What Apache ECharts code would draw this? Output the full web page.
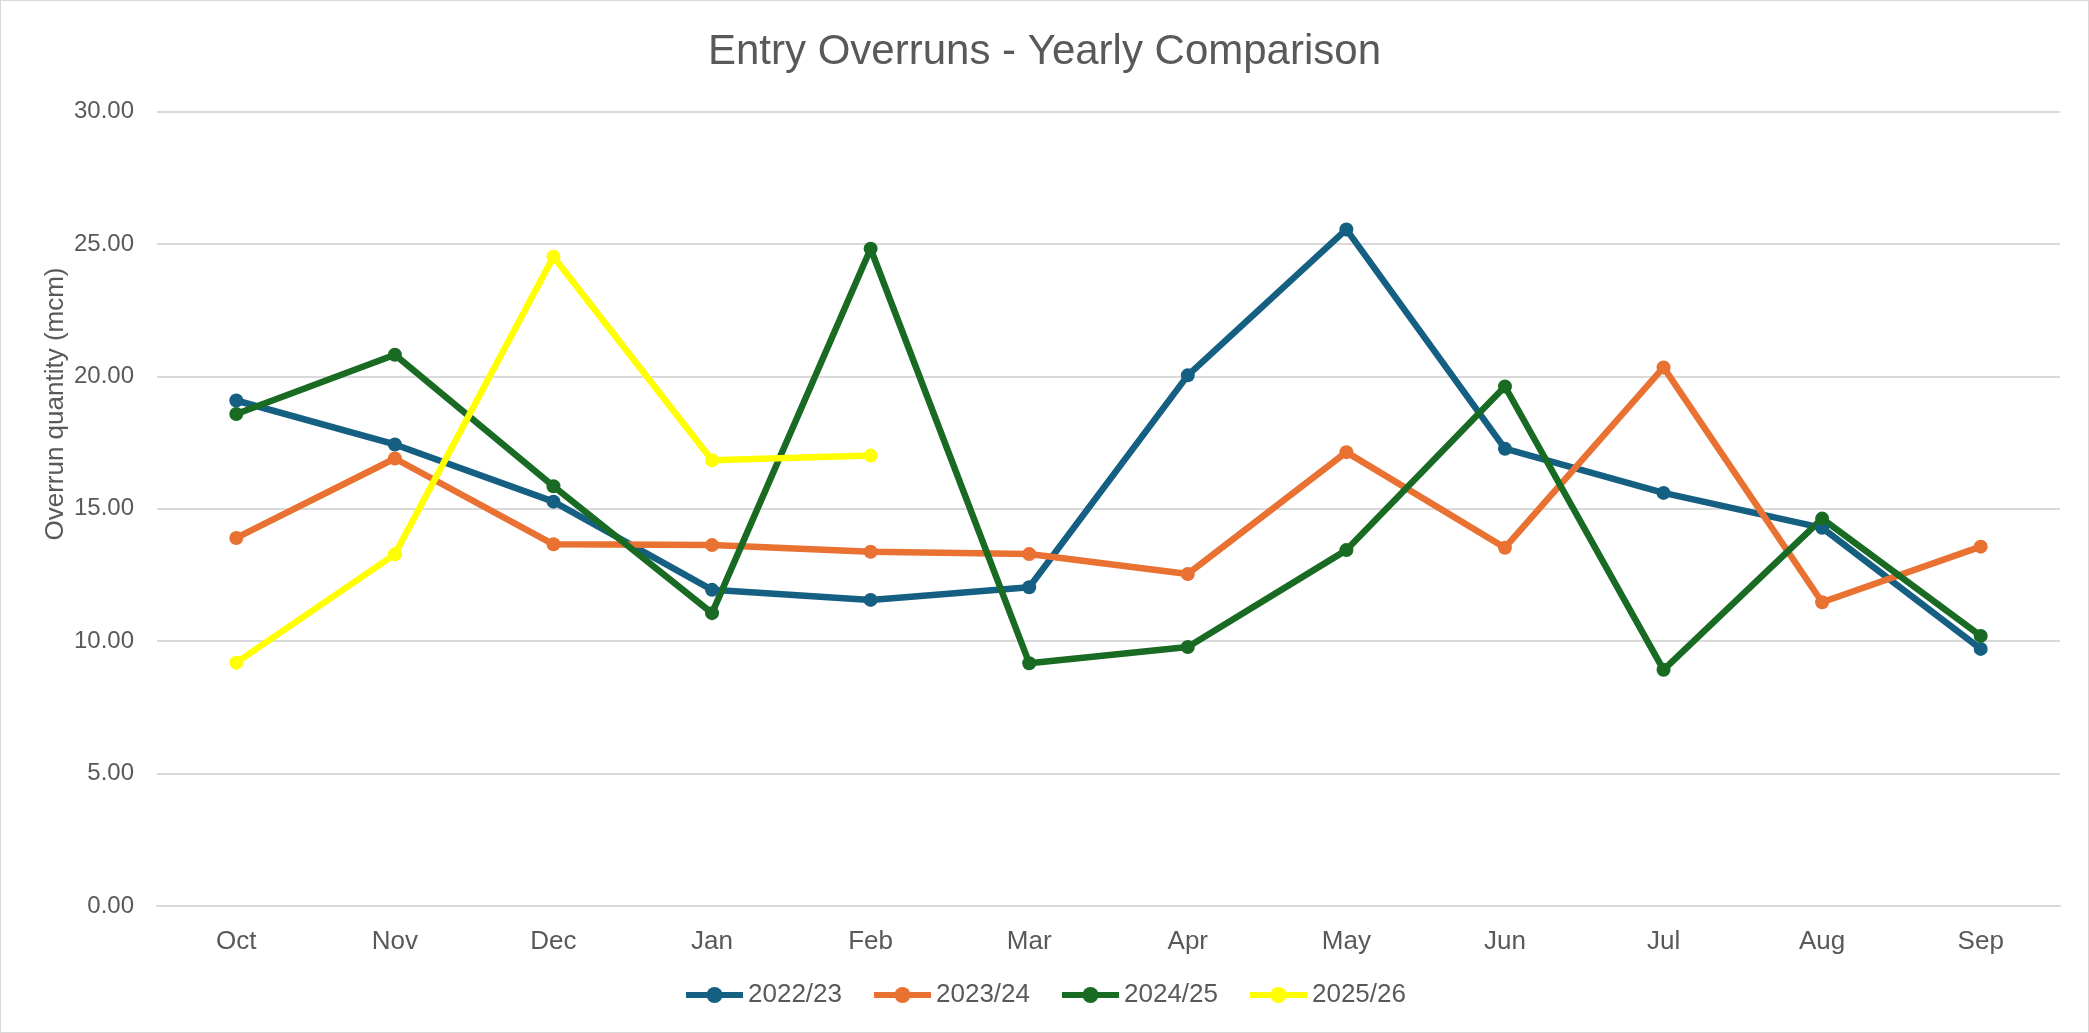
<!DOCTYPE html>
<html>
<head>
<meta charset="utf-8">
<script src="https://cdn.jsdelivr.net/npm/echarts@6/dist/echarts.min.js"></script>
<style>
html,body{margin:0;padding:0;background:#fff;}
#chart{width:2089px;height:1033px;box-sizing:border-box;border:1px solid #d9d9d9;}
</style>
</head>
<body>
<div id="chart"></div>
<script>
const months = ['Oct','Nov','Dec','Jan','Feb','Mar','Apr','May','Jun','Jul','Aug','Sep'];
const seriesNames = ['2022/23','2023/24','2024/25','2025/26'];
const v2022 = [19.09, 17.43, 15.27, 11.94, 11.56, 12.04, 20.04, 25.55, 17.27, 15.60, 14.28, 9.71];
const v2023 = [13.90, 16.90, 13.66, 13.63, 13.38, 13.29, 12.54, 17.14, 13.53, 20.34, 11.47, 13.57];
const v2024 = [18.58, 20.82, 15.85, 11.06, 24.82, 9.17, 9.78, 13.44, 19.62, 8.92, 14.63, 10.20];
const v2025 = [9.19, 13.28, 24.52, 16.83, 17.01, null, null, null, null, null, null, null];
const colors = ['#156082', '#E97132', '#196B24', '#FFFF00'];
const allValues = [v2022, v2023, v2024, v2025];

const FONT = 'Liberation Sans';
const chart = echarts.init(document.getElementById('chart'), null, {renderer: 'canvas'});
chart.setOption({
  animation: false,
  backgroundColor: '#ffffff',
  title: {
    text: 'Entry Overruns - Yearly Comparison',
    left: 'center',
    top: 25,
    textStyle: {fontFamily: FONT, fontSize: 42, fontWeight: 'normal', color: '#595959'}
  },
  legend: {
    bottom: 19,
    left: 'center',
    itemWidth: 57,
    itemHeight: 20,
    itemGap: 29,
    lineStyle: {width: 6},
    textStyle: {fontFamily: FONT, fontSize: 26, color: '#595959'},
    data: seriesNames
  },
  grid: {left: 156, right: 28, top: 110.6, bottom: 126, containLabel: false},
  xAxis: {
    type: 'category',
    data: months,
    boundaryGap: true,
    axisLine: {lineStyle: {color: '#d9d9d9', width: 2}},
    axisTick: {show: false},
    axisLabel: {fontFamily: FONT, fontSize: 26, color: '#595959', margin: 23}
  },
  yAxis: {
    type: 'value',
    min: 0, max: 30, interval: 5,
    axisLine: {show: false},
    axisTick: {show: false},
    splitLine: {lineStyle: {color: '#d9d9d9', width: 2}},
    axisLabel: {fontFamily: FONT, fontSize: 24, color: '#595959', margin: 23,
      formatter: v => v.toFixed(2)}
  },
  graphic: [{
    type: 'text',
    x: 55, y: 403,
    rotation: Math.PI / 2,
    style: {
      text: 'Overrun quantity (mcm)',
      fontFamily: FONT, fontSize: 26, fill: '#595959',
      align: 'center', verticalAlign: 'middle'
    }
  }],
  series: seriesNames.map((n, i) => ({
    name: n,
    type: 'line',
    data: allValues[i],
    symbol: 'circle',
    symbolSize: 14,
    connectNulls: false,
    lineStyle: {color: colors[i], width: 6.5},
    itemStyle: {color: colors[i]},
    emphasis: {disabled: true}
  }))
});
</script>
</body>
</html>
